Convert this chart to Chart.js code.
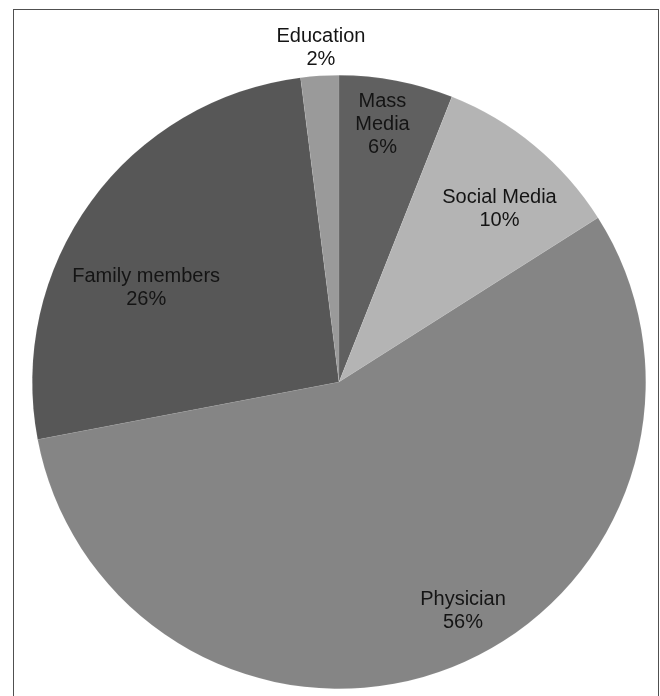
<!DOCTYPE html>
<html>
<head>
<meta charset="utf-8">
<script src="https://cdn.jsdelivr.net/npm/chart.js@4.4.1/dist/chart.umd.min.js"></script>
<style>
    body { margin: 0; background: #fff; overflow: hidden; }
    #frame {
        position: absolute; left: 13px; top: 9px;
        width: 644px; height: 760px;
        border: 1.5px solid #505050;
    }
    #wrap { position: absolute; left: 0; top: 0; width: 660px; height: 696px; }
</style>
</head>
<body>
<div id="frame"></div>
<div id="wrap"><canvas id="pieChart"></canvas></div>
<script>
// sources of information, clockwise from 12 o'clock
const categories = ['Mass Media', 'Social Media', 'Physician', 'Family members', 'Education'];
const values = [6, 10, 56, 26, 2];
const sliceColors = ['#606060', '#b4b4b4', '#858585', '#575757', '#9a9a9a'];

// label lines (how the original chart wrapped each label)
const labelLines = [['Mass', 'Media'], ['Social Media'], ['Physician'], ['Family members'], ['Education']];
// label placement: fraction of radius, and angle shift in degrees from the slice middle
const labelRadius = [0.85, 0.77, 0.85, 0.70, 1.09];
const labelShift = [-1.2, 3.2, -6.8, -9.9, 0.5];

const pieLabels = {
    id: 'pieLabels',
    afterDatasetsDraw(chart) {
        const ctx = chart.ctx;
        const arcs = chart.getDatasetMeta(0).data;
        ctx.save();
        ctx.font = '20px "Liberation Sans", Arial, sans-serif';
        ctx.fillStyle = '#141414';
        ctx.textAlign = 'center';
        ctx.textBaseline = 'middle';
        arcs.forEach((arc, i) => {
            const p = arc.getProps(['x', 'y', 'startAngle', 'endAngle', 'outerRadius'], true);
            const a = (p.startAngle + p.endAngle) / 2 + labelShift[i] * Math.PI / 180;
            const r = p.outerRadius * labelRadius[i];
            const cx = p.x + Math.cos(a) * r;
            const cy = p.y + Math.sin(a) * r;
            const lines = labelLines[i].concat([values[i] + '%']);
            const lh = 23;
            const top = cy - (lines.length - 1) * lh / 2;
            lines.forEach((t, j) => ctx.fillText(t, cx, top + j * lh));
        });
        ctx.restore();
    }
};

const ctx = document.getElementById('pieChart').getContext('2d');
new Chart(ctx, {
    type: 'pie',
    data: {
        labels: categories,
        datasets: [{
            data: values,
            backgroundColor: sliceColors,
            borderColor: 'rgba(255,255,255,0.15)',
            borderWidth: 0.5
        }]
    },
    options: {
        responsive: true,
        maintainAspectRatio: false,
        animation: false,
        layout: { padding: { left: 32, right: 14, top: 75, bottom: 7 } },
        plugins: {
            legend: { display: false },
            tooltip: { enabled: false }
        }
    },
    plugins: [pieLabels]
});
</script>
</body>
</html>
